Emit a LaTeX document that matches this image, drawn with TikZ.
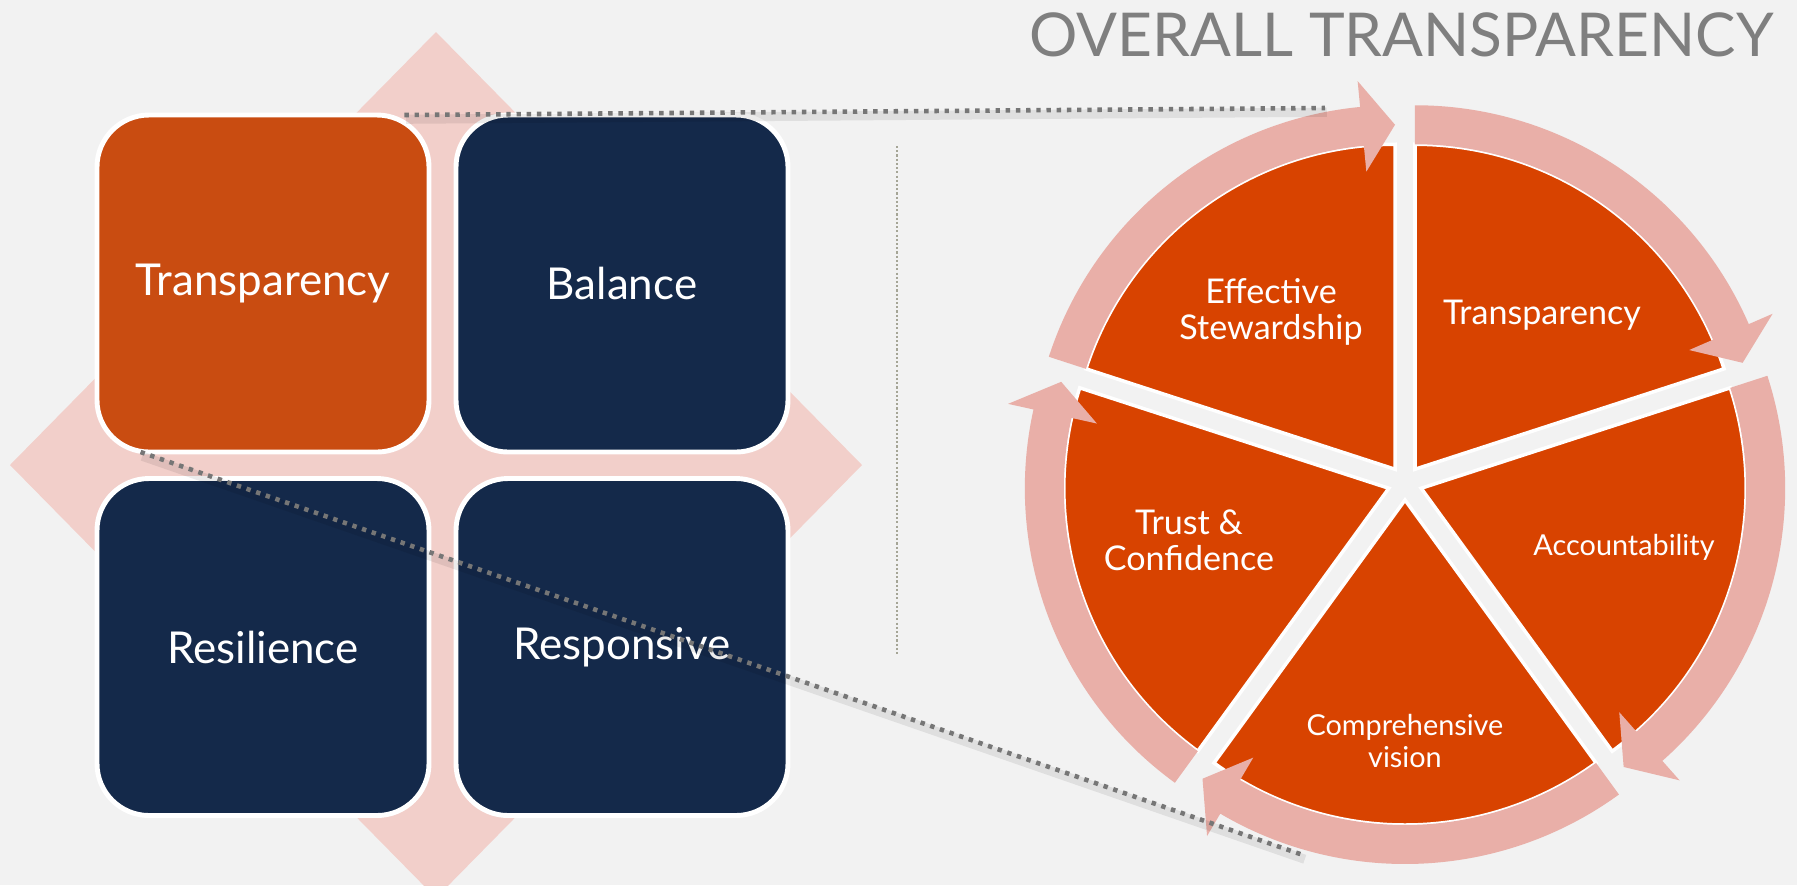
\documentclass[tikz,border=0pt]{standalone}
\usepackage{fontspec}
\setmainfont{Lato}
\usetikzlibrary{positioning}

\definecolor{bgcol}{RGB}{242,242,242}
\definecolor{diamondcol}{RGB}{242,207,202}
\definecolor{boxorange}{RGB}{201,76,17}
\definecolor{boxnavy}{RGB}{20,41,74}
\definecolor{slicecol}{RGB}{216,67,0}
\definecolor{arrowcol}{RGB}{233,175,168}
\definecolor{titlegray}{RGB}{127,127,127}
\definecolor{linegray}{RGB}{118,118,118}
\definecolor{sepgray}{RGB}{165,165,150}

\begin{document}
\begin{tikzpicture}[
      box/.style={rectangle, rounded corners=0.52cm, draw=white, line width=1.4pt, outer sep=0pt, minimum width=3.32cm, minimum height=3.37cm, text=white, font=\fontsize{12.5}{14}\selectfont},
      slicelabel/.style={align=center, text=white, font=\fontsize{9.7}{10.3}\selectfont},
      smalllabel/.style={slicelabel, font=\fontsize{8.2}{8.9}\selectfont},
      zoomline/.style={draw=linegray, line width=1.3pt, dash pattern=on 1.25pt off 1.65pt, preaction={draw=black, opacity=0.08, line width=2.6pt, solid, transform canvas={xshift=0.5pt, yshift=-1.2pt}}}]
      \useasboundingbox (0, 0) rectangle (17.97, -8.85);
      \clip (0, 0) rectangle (17.97, -8.85);
      \fill[bgcol] (0, 0) rectangle (17.97, -8.85);
      \fill[diamondcol] (0.10, -4.65) -- (4.36, -0.32) -- (8.62, -4.65) -- (4.36, -8.98) -- cycle;
      \node (tbox)[box, fill=boxorange] at (2.63, -2.835) {Transparency};
      \node (bbox)[box, fill=boxnavy] at (6.22, -2.835) {Balance};
      \node (rbox)[box, fill=boxnavy] at (2.63, -6.47) {Resilience};
      \node (pbox)[box, fill=boxnavy] at (6.22, -6.47) {Responsive};
      \draw[sepgray, line width=0.6pt, dash pattern=on 0.6pt off 0.6pt] (8.97, -1.46) -- (8.97, -6.54);
      \node (title)[anchor=base east, text=titlegray, font=\fontsize{17.2}{20}\selectfont] at (17.86, -0.56) {OVERALL TRANSPARENCY};
      \begin{scope}[shift={(14.05, -4.83)}]
        \foreach \a in {90, 18, -54, -126, 162} {
          \filldraw[fill=slicecol, draw=white, line width=1pt, shift={({\a+36}:0.17)}] (0, 0) -- (\a:3.25) arc[start angle=\a, end angle=\a+72, radius=3.25] -- cycle;
        }
        \foreach \a in {90, 18, -54, -126, 162} {
          \fill[arrowcol, shift={({\a+36}:0.17)}] ({\a+72}:3.25) arc[start angle=\a+72, end angle=\a+5.5, radius=3.25] -- ({\a+5.5}:2.99) -- (\a:3.445) -- ({\a+5.5}:3.90) -- ({\a+5.5}:3.64) arc[start angle=\a+5.5, end angle=\a+72, radius=3.64] -- cycle;
        }
      \end{scope}
      \node (lstew)[slicelabel] at (12.71, -3.12) {Effective\\Stewardship};
      \node (ltrans)[slicelabel] at (15.42, -3.15) {Transparency};
      \node (lacc)[smalllabel] at (16.24, -5.47) {Accountability};
      \node (ltrust)[slicelabel] at (11.89, -5.40) {Trust \&\\Confidence};
      \node (lvision)[smalllabel] at (14.05, -7.41) {Comprehensive\\vision};
      \coordinate (ztop) at (13.25, -1.08);
      \coordinate (zbot) at (13.03, -8.55);
      \draw[zoomline] (tbox.50) -- (ztop);
      \draw[zoomline] (tbox.234) -- (zbot);
    \end{tikzpicture}
\end{document}
